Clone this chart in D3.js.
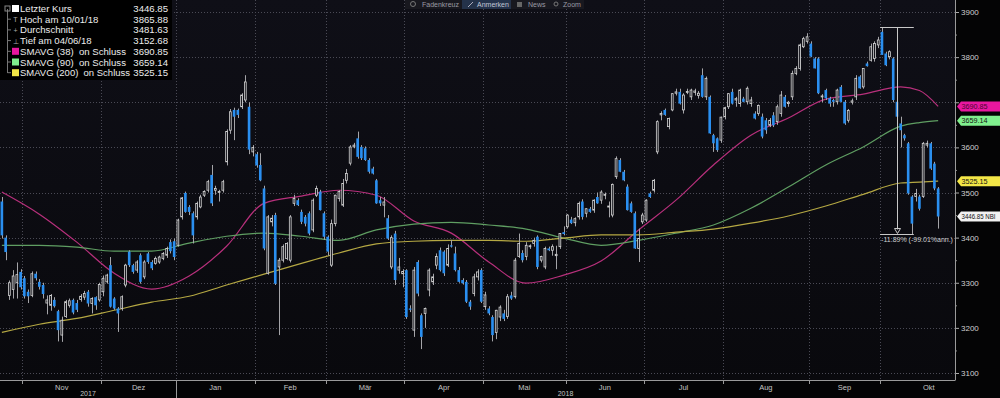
<!DOCTYPE html>
<html>
<head>
<meta charset="utf-8">
<script src="https://cdn.jsdelivr.net/npm/d3@7"></script>
<style>
html, body { margin: 0; padding: 0; background: #050506; }
svg { display: block; font-family: "Liberation Sans", Arial, sans-serif; }
</style>
</head>
<body>
<svg id="chart" width="1000" height="398"></svg>
<script>
// month / year labels, with index of the first trading day of each
var monthLabels = ["Nov", "Dez", "Jan", "Feb", "Mär", "Apr", "Mai", "Jun", "Jul", "Aug", "Sep", "Okt"];
var monthStart = [6, 27, 47, 68, 87, 108, 129, 151, 172, 193, 216, 235, 261];
var yearLabels = ["2017", "2018"];
var yearStart = [0, 47, 255];
var priceTicks = [3100, 3200, 3300, 3400, 3500, 3600, 3700, 3800, 3900];

// daily candles, 24.10.2017 .. 22.10.2018
var open = [3480,3400,3272,3285,3300,3324,3310,3280,3272,3320,3302,3295,3255,3250,3262,3237,3184,3225,3250,3262,
  3255,3263,3268,3280,3254,3268,3262,3280,3302,3339,3265,3243,3243,3295,3369,3339,3328,3361,3313,3365,
  3346,3343,3346,3354,3361,3390,3392,3383,3446,3499,3468,3454,3446,3468,3494,3505,3539,3505,3500,3505,
  3568,3638,3683,3683,3690,3705,3690,3590,3585,3561,3509,3321,3435,3450,3335,3350,3354,3350,3476,3483,
  3457,3446,3454,3417,3494,3502,3454,3402,3339,3431,3487,3472,3527,3565,3601,3620,3601,3598,3572,3553,
  3527,3483,3472,3443,3335,3409,3328,3320,3328,3243,3195,3346,3228,3232,3284,3302,3339,3372,3369,3339,
  3383,3365,3328,3306,3302,3258,3276,3313,3328,3247,3243,3224,3190,3224,3232,3225,3272,3269,3358,3366,
  3358,3380,3387,3402,3350,3335,3376,3372,3360,3380,3412,3424,3440,3433,3446,3480,3454,3464,3461,3490,
  3483,3494,3468,3450,3535,3572,3546,3513,3476,3454,3376,3435,3439,3498,3505,3590,3672,3683,3646,3683,
  3720,3723,3683,3722,3712,3722,3715,3760,3712,3712,3627,3620,3616,3668,3690,3723,3705,3697,3708,3701,
  3697,3675,3675,3668,3660,3649,3671,3657,3675,3712,3697,3712,3764,3775,3823,3835,3830,3797,3797,3712,
  3727,3709,3705,3701,3734,3701,3660,3700,3712,3757,3734,3786,3793,3797,3827,3856,3808,3801,3797,3701,
  3653,3627,3609,3491,3491,3491,3491,3605,3609,3564,3509];
var high = [3490,3405,3305,3328,3345,3330,3315,3285,3325,3325,3308,3300,3272,3275,3268,3240,3225,3262,3265,3265,
  3262,3275,3282,3284,3268,3270,3300,3316,3320,3357,3268,3246,3272,3342,3372,3342,3350,3365,3350,3368,
  3350,3358,3360,3368,3380,3396,3398,3442,3490,3502,3472,3458,3480,3495,3505,3528,3561,3515,3506,3528,
  3640,3685,3688,3686,3720,3760,3700,3605,3590,3587,3515,3450,3450,3455,3355,3385,3390,3450,3495,3487,
  3462,3450,3458,3487,3515,3506,3458,3405,3440,3495,3505,3530,3552,3605,3610,3635,3605,3602,3576,3557,
  3530,3490,3490,3450,3405,3415,3355,3330,3330,3250,3335,3350,3232,3245,3332,3320,3365,3378,3372,3385,
  3395,3380,3335,3310,3306,3262,3320,3330,3332,3280,3248,3228,3240,3250,3240,3275,3280,3355,3409,3372,
  3390,3385,3400,3405,3360,3380,3380,3385,3382,3410,3425,3452,3446,3445,3480,3485,3465,3468,3485,3500,
  3505,3500,3480,3520,3580,3576,3550,3518,3480,3458,3420,3455,3485,3502,3530,3660,3680,3686,3666,3720,
  3730,3730,3720,3730,3730,3730,3725,3775,3757,3715,3630,3622,3668,3690,3720,3730,3712,3730,3712,3735,
  3712,3680,3695,3675,3665,3665,3678,3695,3725,3716,3703,3770,3780,3830,3845,3853,3835,3800,3800,3718,
  3730,3712,3708,3730,3738,3705,3685,3708,3760,3760,3775,3790,3830,3835,3845,3866,3812,3815,3800,3705,
  3668,3630,3612,3494,3508,3495,3612,3615,3612,3568,3512];
var low = [3398,3350,3262,3265,3265,3285,3265,3255,3268,3305,3285,3265,3230,3238,3245,3170,3169,3222,3245,3230,
  3235,3258,3262,3247,3232,3240,3258,3270,3298,3245,3240,3191,3238,3290,3335,3320,3322,3298,3308,3342,
  3328,3340,3342,3350,3355,3365,3350,3380,3440,3455,3450,3387,3440,3465,3490,3500,3470,3495,3480,3500,
  3560,3630,3616,3665,3685,3700,3585,3580,3555,3525,3372,3318,3425,3295,3184,3345,3350,3345,3470,3470,
  3430,3425,3405,3412,3490,3460,3395,3360,3335,3425,3480,3468,3520,3560,3598,3575,3572,3570,3542,3540,
  3475,3470,3445,3395,3330,3295,3320,3290,3220,3235,3180,3270,3153,3200,3270,3295,3330,3325,3315,3335,
  3378,3325,3300,3296,3255,3240,3270,3305,3255,3240,3228,3170,3175,3215,3215,3220,3262,3265,3355,3345,
  3350,3375,3380,3330,3345,3330,3370,3360,3330,3375,3405,3420,3430,3425,3440,3440,3445,3455,3455,3475,
  3475,3485,3445,3445,3530,3545,3525,3460,3455,3375,3346,3430,3435,3488,3500,3585,3660,3670,3640,3680,
  3715,3695,3675,3718,3705,3715,3708,3710,3705,3630,3590,3590,3610,3662,3685,3695,3690,3690,3700,3695,
  3690,3662,3670,3620,3630,3645,3645,3650,3668,3688,3690,3705,3760,3770,3820,3830,3800,3775,3718,3700,
  3705,3690,3690,3695,3700,3650,3655,3695,3705,3730,3730,3779,3790,3790,3820,3805,3780,3795,3700,3665,
  3600,3615,3495,3408,3480,3460,3488,3600,3550,3505,3420];
var close = [3405,3368,3300,3315,3318,3290,3270,3270,3320,3310,3291,3275,3262,3272,3248,3195,3217,3258,3260,3234,
  3240,3270,3276,3254,3265,3250,3296,3310,3317,3247,3243,3232,3269,3339,3339,3324,3346,3302,3346,3346,
  3332,3354,3357,3365,3376,3370,3357,3439,3488,3457,3457,3405,3476,3490,3502,3524,3476,3509,3502,3524,
  3635,3679,3668,3672,3716,3745,3595,3600,3560,3527,3376,3446,3443,3298,3350,3380,3387,3446,3487,3472,
  3435,3431,3409,3483,3509,3461,3402,3369,3431,3494,3502,3520,3542,3601,3605,3579,3576,3572,3546,3542,
  3476,3476,3479,3398,3400,3306,3335,3325,3224,3240,3328,3276,3180,3243,3328,3313,3358,3328,3321,3376,
  3380,3328,3302,3299,3258,3247,3313,3324,3258,3273,3232,3184,3239,3246,3220,3269,3265,3350,3387,3350,
  3383,3382,3394,3335,3358,3376,3372,3380,3363,3409,3408,3450,3432,3442,3476,3446,3464,3457,3483,3476,
  3501,3496,3470,3518,3575,3546,3527,3461,3457,3376,3398,3450,3483,3490,3527,3657,3675,3672,3664,3719,
  3723,3697,3716,3724,3727,3725,3720,3712,3753,3631,3609,3594,3667,3688,3719,3697,3708,3727,3701,3731,
  3705,3664,3693,3624,3638,3660,3649,3690,3716,3690,3700,3764,3775,3827,3841,3845,3801,3775,3720,3714,
  3709,3697,3701,3727,3701,3653,3682,3703,3753,3731,3775,3780,3823,3830,3838,3805,3782,3812,3705,3668,
  3638,3620,3498,3431,3498,3464,3609,3609,3553,3509,3446.85];

// moving averages, at these day indices
var maIdx = [0,10,20,30,40,50,60,70,80,90,100,110,120,130,140,150,160,170,180,190,200,210,220,230,240,245,250];
var sma38 = [3501,3452,3390,3321,3286,3315,3381,3476,3492,3505,3494,3437,3410,3346,3299,3317,3348,3417,3483,3561,3627,3665,3707,3718,3734,3726,3690.85];
var sma90 = [3383,3383,3379,3370,3370,3388,3403,3410,3403,3394,3417,3430,3434,3428,3419,3399,3383,3394,3410,3428,3465,3512,3561,3601,3647,3655,3659.14];
var sma200 = [3190,3208,3221,3239,3257,3270,3295,3319,3343,3366,3386,3392,3394,3394,3392,3399,3406,3406,3412,3419,3432,3448,3470,3496,3521,3523,3525.15];

var legendNames = ["Letzter Kurs", "Hoch am 10/01/18", "Durchschnitt", "Tief am 04/06/18",
  "SMAVG (38)  on Schluss", "SMAVG (90)  on Schluss", "SMAVG (200)  on Schluss"];
var legendValues = ["3446.85", "3865.88", "3481.63", "3152.68", "3690.85", "3659.14", "3525.15"];
var tagValues = [3690.85, 3659.14, 3525.15, 3446.85];
var tagTexts = ["3690.85", "3659.14", "3525.15", "3446.85 NBI"];

var peakIdx = 235, dropIdx = 243;

// ---------- layout ----------
var plotR = 955, plotB = 380;
var svg = d3.select("#chart");
var nSlots = 262;
var step = plotR / 255;
var x = d3.scaleBand().domain(d3.range(nSlots)).range([0, nSlots * step])
    .paddingInner(0.3).paddingOuter(0.15);
var y = d3.scaleLinear().domain([3100, 3900]).range([373, 12]);
var bw = x.bandwidth();
function edge(i) { return x(i) - x.step() * 0.15; }
function cx(i) { return x(i) + bw / 2; }

var maColors = ["#b8307c", "#5f9e62", "#b5a843"];
var tagColors = ["#e8179f", "#80f08e", "#f3e647", "#f2f2f2"];
var swatch = ["#ffffff", null, null, null, "#e8179f", "#80f08e", "#f3e647"];

svg.append("rect").attr("width", 1000).attr("height", 398).attr("fill", "#040405");
var grad = svg.append("defs").append("linearGradient").attr("id", "bg")
    .attr("x1", 0).attr("y1", 0).attr("x2", 0).attr("y2", 1);
grad.append("stop").attr("offset", 0).attr("stop-color", "#0f0f17");
grad.append("stop").attr("offset", 1).attr("stop-color", "#09090d");
svg.select("defs").append("clipPath").attr("id", "clip")
    .append("rect").attr("width", plotR).attr("height", plotB);
svg.append("rect").attr("width", plotR).attr("height", plotB).attr("fill", "url(#bg)");

// grid
var grid = svg.append("g").attr("stroke", "#4a4a55").attr("stroke-dasharray", "1,2");
grid.selectAll(".hg").data(priceTicks).enter().append("line")
    .attr("x1", 0).attr("x2", plotR)
    .attr("y1", function (d) { return Math.round(y(d)) + 0.5; })
    .attr("y2", function (d) { return Math.round(y(d)) + 0.5; });
grid.selectAll(".vg").data(monthStart.slice(0, 12)).enter().append("line")
    .attr("x1", function (d) { return Math.round(edge(d)) + 0.5; })
    .attr("x2", function (d) { return Math.round(edge(d)) + 0.5; })
    .attr("y1", 0).attr("y2", plotB);

var plot = svg.append("g").attr("clip-path", "url(#clip)");

// moving averages
var mas = [sma38, sma90, sma200];
mas.forEach(function (vals, k) {
    var line = d3.line()
        .x(function (d, i) { return cx(maIdx[i]); })
        .y(function (d) { return y(d); })
        .curve(d3.curveMonotoneX);
    plot.append("path").datum(vals).attr("d", line)
        .attr("fill", "none").attr("stroke", maColors[k]).attr("stroke-width", 1.2);
});

// candles
var days = d3.range(close.length);
plot.selectAll(".wick").data(days).enter().append("line")
    .attr("x1", function (i) { return Math.round(cx(i)) + 0.5; })
    .attr("x2", function (i) { return Math.round(cx(i)) + 0.5; })
    .attr("y1", function (i) { return y(high[i]); })
    .attr("y2", function (i) { return y(low[i]); })
    .attr("stroke", "#a4a4a8").attr("stroke-width", 1);

plot.selectAll(".body").data(days).enter().append("rect")
    .attr("x", function (i) { return x(i) + (close[i] >= open[i] ? 0.4 : 0); })
    .attr("y", function (i) { return y(Math.max(open[i], close[i])); })
    .attr("width", function (i) { return close[i] >= open[i] ? bw - 0.8 : bw; })
    .attr("height", function (i) { return Math.max(1, Math.abs(y(open[i]) - y(close[i]))); })
    .attr("fill", function (i) { return close[i] >= open[i] ? "#15151c" : "#2a8ff0"; })
    .attr("stroke", function (i) { return close[i] >= open[i] ? "#d6d6d6" : "none"; })
    .attr("stroke-width", 0.8);

// drop annotation
var ann = svg.append("g").attr("stroke", "#c8c8c8").attr("stroke-width", 1).attr("fill", "none");
var xa = edge(peakIdx), xb = edge(dropIdx + 1), xm = Math.round(cx(Math.round((peakIdx + dropIdx) / 2))) + 0.5;
var yTop = Math.round(y(high[peakIdx])) + 0.5, yBot = Math.round(y(low[dropIdx])) + 0.5;
ann.append("line").attr("x1", xa).attr("x2", xb).attr("y1", yTop).attr("y2", yTop);
ann.append("line").attr("x1", xa).attr("x2", xb).attr("y1", yBot).attr("y2", yBot);
ann.append("line").attr("x1", xm).attr("x2", xm).attr("y1", yTop).attr("y2", yBot - 5);
ann.append("path").attr("d", "M" + (xm - 3) + "," + (yBot - 6) + "L" + (xm + 3) + "," + (yBot - 6) + "L" + xm + "," + (yBot - 1) + "Z");
svg.append("text").attr("x", xa + 1).attr("y", yBot + 7)
    .attr("font-size", 7).attr("fill", "#d0d0d0")
    .text("-11.89% (-99.01%ann.)");

// right axis; labels hidden behind a value tag are skipped, as in the original
function coveredByTag(v) {
    return tagValues.some(function (t) { return Math.abs(y(t) - y(v)) < 7; });
}
var yAxis = svg.append("g").attr("transform", "translate(" + plotR + ",0)")
    .call(d3.axisRight(y).tickValues(priceTicks).tickSize(4).tickPadding(2)
        .tickFormat(function (d) { return coveredByTag(d) ? "" : d3.format("d")(d); }));
yAxis.select(".domain").remove();
yAxis.selectAll(".tick line").attr("stroke", "#aaa");
yAxis.selectAll(".tick text").attr("fill", "#cfcfcf").attr("font-size", 8).attr("font-family", "Liberation Sans, Arial, sans-serif");
svg.append("g").attr("transform", "translate(" + plotR + ",0)")
    .call(d3.axisRight(y).tickValues(d3.range(3150, 3900, 100)).tickSize(2).tickFormat(""))
    .call(function (g) { g.select(".domain").remove(); g.selectAll("line").attr("stroke", "#888"); });
svg.append("line").attr("x1", plotR + 0.5).attr("x2", plotR + 0.5).attr("y1", 0).attr("y2", plotB + 0.5)
    .attr("stroke", "#9a9a9a");

// value tags
var tags = svg.append("g");
tagValues.forEach(function (v, k) {
    var ty = y(v);
    tags.append("path")
        .attr("d", "M" + (plotR + 2) + "," + ty + "L" + (plotR + 6) + "," + (ty - 5) + "L1000," + (ty - 5) +
            "L1000," + (ty + 5) + "L" + (plotR + 6) + "," + (ty + 5) + "Z")
        .attr("fill", tagColors[k]);
    var t = tags.append("text").attr("x", plotR + 6.5).attr("y", ty + 2.7)
        .attr("font-size", 7.2).attr("fill", k == 0 ? "#4a0630" : "#111")
        .text(tagTexts[k]);
    var maxW = 1000 - plotR - 11;
    if (t.node().getComputedTextLength() > maxW) {
        t.attr("textLength", maxW).attr("lengthAdjust", "spacingAndGlyphs");
    }
});

// bottom axis
svg.append("line").attr("x1", 0).attr("x2", plotR).attr("y1", plotB + 0.5).attr("y2", plotB + 0.5)
    .attr("stroke", "#9a9a9a");
var xg = svg.append("g").attr("font-size", 7.5).attr("fill", "#c4c4c4").attr("text-anchor", "middle");
monthLabels.forEach(function (m, k) {
    var x0 = edge(monthStart[k]), x1 = edge(monthStart[k + 1]);
    xg.append("line").attr("x1", Math.round(x0) + 0.5).attr("x2", Math.round(x0) + 0.5)
        .attr("y1", plotB).attr("y2", plotB + 4).attr("stroke", "#9a9a9a");
    xg.append("text").attr("x", (x0 + x1) / 2).attr("y", plotB + 9.5).text(m);
});
yearLabels.forEach(function (yl, k) {
    var x0 = edge(yearStart[k]), x1 = edge(yearStart[k + 1]);
    if (k > 0) {
        xg.append("line").attr("x1", Math.round(x0) + 0.5).attr("x2", Math.round(x0) + 0.5)
            .attr("y1", plotB).attr("y2", 398).attr("stroke", "#9a9a9a");
    }
    xg.append("text").attr("x", (x0 + x1) / 2).attr("y", plotB + 16).attr("font-size", 7).text(yl);
});

// legend
var lg = svg.append("g");
lg.append("rect").attr("width", 172).attr("height", 80).attr("fill", "#000");
lg.append("line").attr("x1", 7.5).attr("x2", 7.5).attr("y1", 9).attr("y2", 73).attr("stroke", "#777");
lg.append("rect").attr("x", 5).attr("y", 6).attr("width", 5).attr("height", 5)
    .attr("fill", "none").attr("stroke", "#888");
var glyphs = [null, "T", "+", "\u22a5", null, null, null];
legendNames.forEach(function (name, k) {
    var cy = 8.5 + k * 10.7;
    if (k > 0) lg.append("line").attr("x1", 7.5).attr("x2", 11).attr("y1", cy).attr("y2", cy).attr("stroke", "#777");
    if (swatch[k]) {
        lg.append("rect").attr("x", 12).attr("y", cy - 3.5).attr("width", 7).attr("height", 7).attr("fill", swatch[k]);
    } else {
        lg.append("text").attr("x", 15.5).attr("y", cy + 3).attr("font-size", 7).attr("fill", "#aaa")
            .attr("text-anchor", "middle").text(glyphs[k]);
    }
    var nt = lg.append("text").attr("x", 20).attr("y", cy + 3.5).attr("font-size", 9.6).attr("fill", "#ececec")
        .style("white-space", "pre").text(name);
    if (nt.node().getComputedTextLength() > 110) {
        nt.attr("textLength", 110).attr("lengthAdjust", "spacingAndGlyphs");
    }
    lg.append("text").attr("x", 168).attr("y", cy + 3.5).attr("font-size", 9.6).attr("fill", "#ececec")
        .attr("text-anchor", "end").text(legendValues[k]);
});

// toolbar
var tb = svg.append("g").attr("font-size", 7).attr("fill", "#9a9aa4");
tb.append("rect").attr("x", 405).attr("y", 0).attr("width", 179).attr("height", 9).attr("fill", "#18181f");
tb.append("rect").attr("x", 462).attr("y", 0).attr("width", 49).attr("height", 9).attr("fill", "#24324a");
tb.append("circle").attr("cx", 413).attr("cy", 4).attr("r", 2.5).attr("fill", "none").attr("stroke", "#777");
tb.append("text").attr("x", 422).attr("y", 7).text("Fadenkreuz");
tb.append("line").attr("x1", 468).attr("x2", 473).attr("y1", 7).attr("y2", 2).attr("stroke", "#aab");
tb.append("text").attr("x", 477).attr("y", 7).attr("fill", "#c0c6d4").text("Anmerken");
tb.append("rect").attr("x", 517).attr("y", 2).attr("width", 5).attr("height", 5).attr("fill", "#666");
tb.append("text").attr("x", 528).attr("y", 7).text("News");
tb.append("circle").attr("cx", 556).attr("cy", 4).attr("r", 2).attr("fill", "none").attr("stroke", "#777");
tb.append("text").attr("x", 563).attr("y", 7).text("Zoom");
</script>
</body>
</html>
